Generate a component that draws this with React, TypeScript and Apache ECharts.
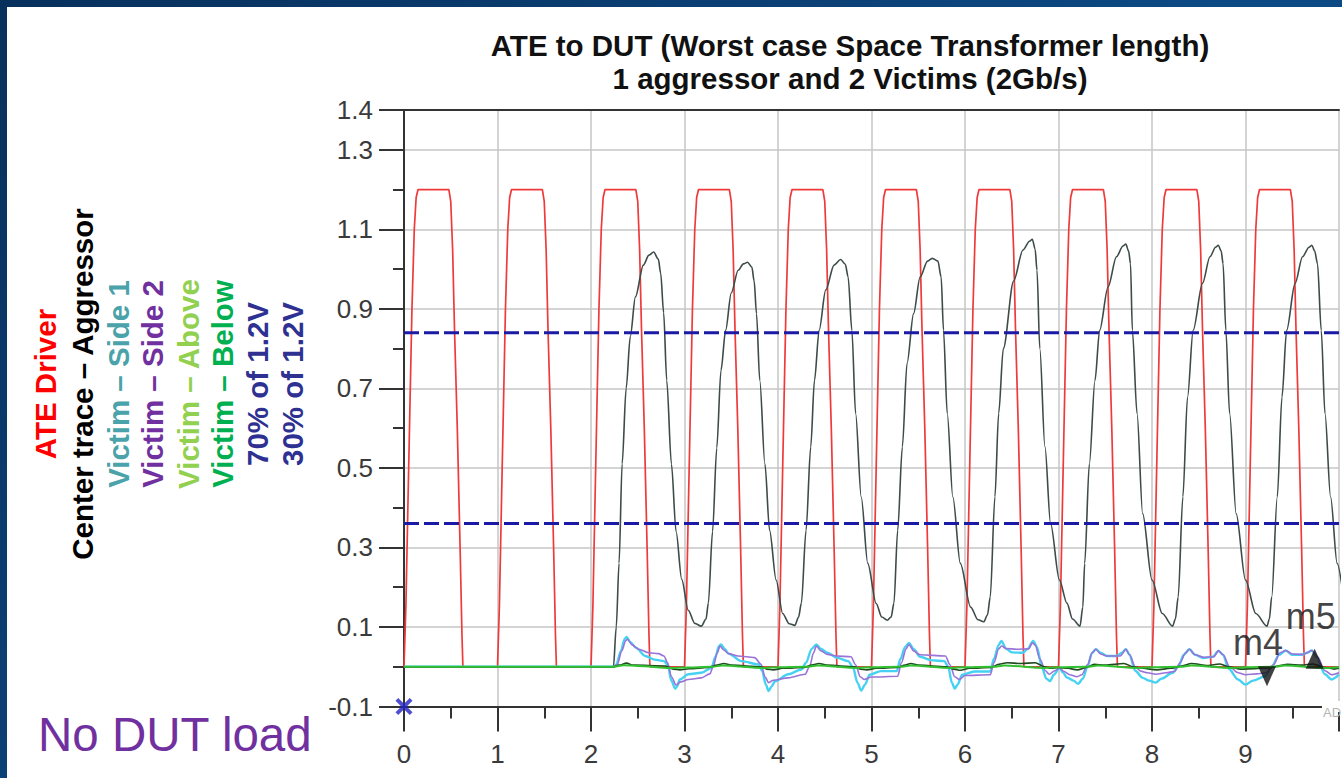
import React, { useEffect, useRef } from 'react';
import * as echarts from 'echarts';

const titleLines = ['ATE to DUT (Worst case Space Transformer length)', '1 aggressor and 2 Victims (2Gb/s)'];
const legendLabels = ['ATE Driver', 'Center trace – Aggressor', 'Victim – Side 1', 'Victim – Side 2', 'Victim – Above', 'Victim – Below', '70% of 1.2V', '30% of 1.2V'];
const legendColors = ['#ff0000', '#000000', '#4aa3aa', '#7030a0', '#92d050', '#00b050', '#2e3192', '#2e3192'];
const noteText = 'No DUT load';

const xTickLabels = ['0', '1', '2', '3', '4', '5', '6', '7', '8', '9', ''];
const yTickLabels = ['-0.1', '0.1', '0.3', '0.5', '0.7', '0.9', '1.1', '1.3', '1.4'];

// ATE driver: rising-edge start of each pulse (ns) and the pulse outline (offset ns, V)
const driverEdges = [0, 1, 2, 3, 4, 5, 6, 7, 8, 9];
const pulseOffsetT = [0, 0.02, 0.05, 0.085, 0.11, 0.13, 0.15, 0.48, 0.5, 0.52, 0.54, 0.57, 0.6, 0.62, 0.63];
const pulseV = [0, 0.15, 0.5, 0.9, 1.1, 1.18, 1.2, 1.2, 1.17, 1.05, 0.85, 0.6, 0.3, 0.08, 0];

// Center trace – aggressor
const aggT = [0, 2.24, 2.27, 2.3, 2.333, 2.376, 2.42, 2.475, 2.56, 2.62, 2.67, 2.72, 2.745, 2.777, 2.81, 2.86, 2.91, 2.97, 3.04, 3.11, 3.18, 3.23, 3.255, 3.3, 3.345, 3.39, 3.44, 3.5, 3.574, 3.63, 3.674, 3.72, 3.745, 3.77, 3.805, 3.86, 3.91, 3.98, 4.05, 4.12, 4.18, 4.22, 4.25, 4.3, 4.35, 4.39, 4.44, 4.51, 4.6, 4.67, 4.72, 4.75, 4.79, 4.83, 4.89, 4.96, 5.05, 5.11, 5.17, 5.21, 5.24, 5.28, 5.33, 5.38, 5.45, 5.52, 5.6, 5.65, 5.71, 5.745, 5.77, 5.81, 5.87, 5.95, 6.06, 6.14, 6.2, 6.24, 6.27, 6.32, 6.36, 6.41, 6.52, 6.62, 6.69, 6.72, 6.75, 6.77, 6.8, 6.855, 6.915, 7.01, 7.09, 7.15, 7.23, 7.26, 7.28, 7.33, 7.39, 7.44, 7.53, 7.62, 7.69, 7.72, 7.75, 7.77, 7.79, 7.84, 7.9, 8.0, 8.11, 8.22, 8.25, 8.28, 8.33, 8.38, 8.44, 8.54, 8.62, 8.68, 8.71, 8.74, 8.76, 8.79, 8.83, 8.9, 9.0, 9.11, 9.23, 9.255, 9.28, 9.34, 9.39, 9.44, 9.53, 9.61, 9.68, 9.71, 9.74, 9.77, 9.81, 9.85, 9.91, 9.98, 10.05];
const aggV = [0, 0, 0.1, 0.26, 0.51, 0.7, 0.83, 0.93, 1.01, 1.035, 1.043, 1.025, 0.99, 0.89, 0.72, 0.51, 0.34, 0.22, 0.142, 0.109, 0.102, 0.12, 0.16, 0.34, 0.55, 0.745, 0.846, 0.94, 0.997, 1.013, 1.017, 1.005, 0.97, 0.888, 0.72, 0.51, 0.343, 0.218, 0.134, 0.108, 0.104, 0.125, 0.16, 0.343, 0.553, 0.72, 0.846, 0.947, 1.01, 1.024, 1.012, 0.98, 0.846, 0.637, 0.427, 0.26, 0.159, 0.125, 0.117, 0.125, 0.16, 0.343, 0.553, 0.763, 0.888, 0.98, 1.02, 1.027, 1.02, 0.98, 0.846, 0.637, 0.427, 0.26, 0.15, 0.118, 0.113, 0.13, 0.175, 0.427, 0.637, 0.8, 0.97, 1.048, 1.07, 1.075, 1.05, 0.997, 0.8, 0.553, 0.36, 0.218, 0.16, 0.12, 0.102, 0.15, 0.26, 0.51, 0.72, 0.846, 0.955, 1.031, 1.058, 1.063, 1.045, 1.014, 0.846, 0.637, 0.385, 0.218, 0.134, 0.102, 0.12, 0.175, 0.427, 0.678, 0.846, 0.964, 1.031, 1.055, 1.06, 1.045, 1.014, 0.846, 0.637, 0.385, 0.218, 0.134, 0.102, 0.12, 0.175, 0.427, 0.678, 0.846, 0.964, 1.031, 1.055, 1.06, 1.045, 1.014, 0.846, 0.637, 0.427, 0.26, 0.17];

// Victim – Side 1
const side1T = [0, 2.24, 2.27, 2.32, 2.36, 2.38, 2.42, 2.48, 2.58, 2.68, 2.78, 2.82, 2.86, 2.9, 2.92, 2.95, 3.04, 3.18, 3.29, 3.33, 3.37, 3.39, 3.43, 3.47, 3.61, 3.79, 3.83, 3.87, 3.9, 3.93, 3.97, 4.11, 4.25, 4.3, 4.36, 4.41, 4.46, 4.53, 4.63, 4.75, 4.8, 4.85, 4.89, 4.93, 4.98, 5.1, 5.27, 5.31, 5.36, 5.4, 5.45, 5.52, 5.65, 5.78, 5.82, 5.86, 5.89, 5.92, 5.97, 6.1, 6.27, 6.31, 6.36, 6.39, 6.44, 6.5, 6.62, 6.67, 6.73, 6.77, 6.82, 6.87, 6.91, 6.95, 7.01, 7.05, 7.09, 7.16, 7.21, 7.26, 7.31, 7.36, 7.4, 7.45, 7.52, 7.62, 7.68, 7.72, 7.76, 7.82, 7.9, 7.97, 8.04, 8.1, 8.22, 8.28, 8.34, 8.4, 8.46, 8.55, 8.65, 8.71, 8.76, 8.82, 8.92, 9.0, 9.08, 9.21, 9.28, 9.36, 9.43, 9.5, 9.6, 9.66, 9.71, 9.76, 9.85, 9.92, 10.0];
const side1V = [0, 0, 0.005, 0.04, 0.07, 0.075, 0.062, 0.048, 0.027, 0.018, 0.014, 0.005, -0.035, -0.055, -0.05, -0.032, -0.019, -0.015, -0.003, 0.025, 0.052, 0.056, 0.045, 0.033, 0.014, 0.006, -0.01, -0.045, -0.061, -0.05, -0.036, -0.019, -0.007, 0.01, 0.045, 0.056, 0.045, 0.035, 0.023, 0.014, 0.0, -0.04, -0.06, -0.045, -0.02, -0.011, -0.011, 0.02, 0.05, 0.06, 0.045, 0.025, 0.016, 0.014, 0.0, -0.04, -0.055, -0.045, -0.02, -0.012, -0.012, 0.02, 0.055, 0.065, 0.045, 0.036, 0.035, 0.045, 0.065, 0.05, 0.0, -0.03, -0.036, -0.02, -0.003, -0.015, -0.027, -0.035, -0.043, -0.03, 0.0, 0.035, 0.044, 0.035, 0.027, 0.027, 0.035, 0.044, 0.03, -0.01, -0.028, -0.035, -0.04, -0.03, -0.015, 0.0, 0.03, 0.044, 0.03, 0.022, 0.025, 0.04, 0.03, -0.005, -0.032, -0.045, -0.035, -0.024, 0.0, 0.03, 0.041, 0.03, 0.03, 0.035, 0.041, 0.025, -0.019, -0.032, -0.02];

// Victim – Side 2
const side2T = [0, 2.24, 2.28, 2.33, 2.37, 2.39, 2.44, 2.51, 2.62, 2.72, 2.78, 2.82, 2.86, 2.91, 2.96, 3.04, 3.18, 3.27, 3.31, 3.35, 3.38, 3.42, 3.47, 3.57, 3.75, 3.82, 3.86, 3.9, 3.95, 4.11, 4.29, 4.34, 4.38, 4.41, 4.46, 4.53, 4.63, 4.78, 4.83, 4.88, 4.92, 5.0, 5.28, 5.32, 5.37, 5.4, 5.45, 5.52, 5.79, 5.84, 5.89, 5.94, 6.0, 6.27, 6.31, 6.36, 6.39, 6.44, 6.55, 6.68, 6.72, 6.75, 6.8, 6.86, 6.9, 6.96, 7.01, 7.06, 7.12, 7.2, 7.25, 7.31, 7.36, 7.4, 7.45, 7.52, 7.66, 7.72, 7.76, 7.82, 7.88, 7.95, 8.04, 8.15, 8.24, 8.3, 8.36, 8.4, 8.46, 8.55, 8.66, 8.71, 8.76, 8.83, 8.92, 9.0, 9.12, 9.22, 9.3, 9.37, 9.43, 9.5, 9.62, 9.71, 9.77, 9.85, 9.92, 10.0];
const side2V = [0, 0, 0.005, 0.04, 0.065, 0.069, 0.055, 0.044, 0.035, 0.033, 0.027, 0.01, -0.025, -0.046, -0.038, -0.032, -0.028, -0.018, 0.002, 0.035, 0.052, 0.042, 0.033, 0.027, 0.023, 0.006, -0.025, -0.04, -0.034, -0.028, -0.019, 0.002, 0.035, 0.052, 0.04, 0.031, 0.027, 0.025, 0.005, -0.025, -0.032, -0.026, -0.024, 0.01, 0.045, 0.056, 0.04, 0.03, 0.027, 0.005, -0.025, -0.032, -0.022, -0.02, 0.01, 0.045, 0.052, 0.046, 0.044, 0.045, 0.06, 0.055, 0.02, -0.01, -0.019, -0.01, -0.003, -0.012, -0.02, -0.025, -0.02, 0.005, 0.035, 0.044, 0.032, 0.027, 0.027, 0.044, 0.03, 0.0, -0.011, -0.015, -0.019, -0.015, -0.012, 0.01, 0.035, 0.044, 0.03, 0.024, 0.025, 0.04, 0.03, 0.0, -0.015, -0.02, -0.018, -0.015, 0.005, 0.035, 0.041, 0.032, 0.031, 0.041, 0.025, -0.01, -0.02, -0.015];

// Victim – Below (dark) and Victim – Above (light)
const belowT = [0, 2.24, 2.3, 2.38, 2.45, 2.8, 2.88, 2.95, 3.05, 3.25, 3.35, 3.42, 3.5, 3.82, 3.88, 3.95, 4.05, 4.28, 4.36, 4.44, 4.52, 4.82, 4.88, 4.95, 5.05, 5.28, 5.36, 5.42, 5.5, 5.8, 5.88, 5.95, 6.05, 6.28, 6.36, 6.45, 6.6, 6.75, 6.85, 6.92, 7.0, 7.1, 7.2, 7.3, 7.38, 7.5, 7.7, 7.8, 7.9, 8.05, 8.2, 8.32, 8.42, 8.6, 8.72, 8.82, 8.95, 9.1, 9.25, 9.35, 9.45, 9.6, 9.72, 9.85, 9.95, 10.0];
const belowV = [0, 0, 0.004, 0.009, 0.004, 0.002, -0.006, -0.008, -0.005, -0.002, 0.004, 0.008, 0.004, 0.0, -0.006, -0.008, -0.004, -0.002, 0.004, 0.008, 0.004, 0.0, -0.006, -0.008, -0.004, -0.002, 0.004, 0.008, 0.004, 0.0, -0.006, -0.009, -0.004, -0.002, 0.006, 0.01, 0.008, 0.01, 0.0, -0.004, -0.002, -0.004, -0.008, -0.002, 0.006, 0.004, 0.008, 0.0, -0.004, -0.008, -0.004, 0.002, 0.008, 0.003, 0.007, 0.0, -0.006, -0.005, -0.003, 0.002, 0.006, 0.004, 0.007, -0.002, -0.006, -0.004];
const aboveT = [0, 2.24, 2.35, 2.5, 2.85, 3.0, 3.3, 3.4, 3.85, 4.0, 4.3, 4.42, 4.85, 5.0, 5.3, 5.42, 5.85, 6.0, 6.3, 6.42, 6.85, 7.0, 7.3, 7.42, 7.85, 8.0, 8.3, 8.42, 8.85, 9.0, 9.3, 9.42, 9.85, 10.0];
const aboveV = [0, 0, 0.004, 0.002, -0.003, -0.002, 0.0, 0.003, -0.003, -0.001, 0.0, 0.003, -0.003, -0.001, 0.0, 0.003, -0.003, -0.001, 0.0, 0.003, -0.003, -0.001, 0.0, 0.003, -0.003, -0.001, 0.0, 0.003, -0.003, -0.001, 0.0, 0.003, -0.003, -0.001];

// 70% and 30% of 1.2 V thresholds
const threshold70 = 0.84;
const threshold30 = 0.36;
const xRange = [0, 10];

// Markers
const markerNames = ['m4', 'm5'];
const markerT = [9.23, 9.74];
const markerV = [-0.024, 0.02];

const FONT = '"Liberation Sans", Arial, Helvetica, sans-serif';

function pairs(t: number[], v: number[]) {
  return t.map((x, i) => [x, v[i]]);
}

function driverData() {
  const out: number[][] = [];
  driverEdges.forEach((e) => {
    pulseOffsetT.forEach((o, i) => out.push([+(e + o).toFixed(3), pulseV[i]]));
  });
  out.push([10, 0]);
  return out;
}

export default function App() {
  const ref = useRef<HTMLDivElement>(null);
  useEffect(() => {
    if (!ref.current) return;
    const chart = echarts.init(ref.current, undefined, { renderer: 'svg' });
    const lineBase = { type: 'line', showSymbol: false, silent: true, animation: false, xAxisIndex: 0, yAxisIndex: 0 };
    const legendX = [45, 82, 118, 152, 188, 222, 257, 292];
    chart.setOption({
      animation: false,
      backgroundColor: 'transparent',
      grid: { left: 404, top: 110, width: 940, height: 596.5, containLabel: false },
      xAxis: [
        {
          type: 'value', min: xRange[0], max: xRange[1], interval: 1, position: 'bottom',
          axisLine: { onZero: false, lineStyle: { color: '#333', width: 2 } },
          axisTick: { length: 25, lineStyle: { color: '#333', width: 2 } },
          minorTick: { show: true, splitNumber: 2, length: 12, lineStyle: { color: '#333', width: 2 } },
          axisLabel: { fontSize: 26, color: '#3a3a3a', fontFamily: FONT, margin: 34, formatter: (_v: number, i: number) => xTickLabels[i] ?? '' },
          splitLine: { show: true, lineStyle: { color: '#c6c6c6', width: 1.5 } },
        },
        {
          type: 'value', min: xRange[0], max: xRange[1], position: 'top',
          axisLine: { onZero: false, lineStyle: { color: '#333', width: 2 } },
          axisTick: { show: false }, axisLabel: { show: false }, splitLine: { show: false },
        },
      ],
      yAxis: [
        {
          type: 'value', min: -0.1, max: 1.4, interval: 0.1, position: 'left',
          axisLine: { show: true, onZero: false, lineStyle: { color: '#333', width: 2 } },
          axisTick: { length: 11, lineStyle: { color: '#333', width: 2 } },
          axisLabel: { show: false }, splitLine: { show: false },
        },
        {
          type: 'value', min: 0, max: 1.5, interval: 0.2, position: 'left',
          axisLine: { show: false, onZero: false },
          axisTick: { show: true, length: 25, lineStyle: { color: '#333', width: 2 } },
          axisLabel: { fontSize: 26, color: '#3a3a3a', fontFamily: FONT, margin: 31, formatter: (_v: number, i: number) => yTickLabels[i] ?? '' },
          splitLine: { show: true, lineStyle: { color: '#c6c6c6', width: 1.5 } },
        },
      ],
      series: [
        { ...lineBase, name: 'ATE Driver', data: driverData(), lineStyle: { color: '#f03a3a', width: 1.7 } },
        { ...lineBase, name: 'Center trace – Aggressor', data: pairs(aggT, aggV), smooth: 0.3, smoothMonotone: 'x', lineStyle: { color: '#3d4c4a', width: 1.6 } },
        { ...lineBase, name: 'Victim – Side 1', data: pairs(side1T, side1V), smooth: 0.3, smoothMonotone: 'x', lineStyle: { color: '#45d2f2', width: 2.4 } },
        { ...lineBase, name: 'Victim – Side 2', data: pairs(side2T, side2V), smooth: 0.3, smoothMonotone: 'x', lineStyle: { color: '#9a72d8', width: 1.6 } },
        { ...lineBase, name: 'Victim – Below', data: pairs(belowT, belowV), smooth: 0.3, smoothMonotone: 'x', lineStyle: { color: '#1e4a1e', width: 1.6 } },
        { ...lineBase, name: 'Victim – Above', data: pairs(aboveT, aboveV), smooth: 0.3, smoothMonotone: 'x', lineStyle: { color: '#2fbf2f', width: 2 } },
        { ...lineBase, name: '70% of 1.2V', data: [[xRange[0], threshold70], [xRange[1], threshold70]], lineStyle: { color: '#1a1aa6', width: 3, type: [15, 5] } },
        { ...lineBase, name: '30% of 1.2V', data: [[xRange[0], threshold30], [xRange[1], threshold30]], lineStyle: { color: '#1a1aa6', width: 3, type: [15, 5] } },
        {
          type: 'scatter', name: 'markers', silent: true, animation: false, clip: false,
          data: markerT.map((t, i) => ({
            value: [t, markerV[i]],
            symbolRotate: i === 0 ? 180 : 0,
            label: { show: true, formatter: markerNames[i], position: 'top', distance: i === 0 ? 6 : 14, offset: i === 0 ? [-9, 0] : [-4, 0] },
          })),
          symbol: 'triangle', symbolSize: [18, 20],
          itemStyle: { color: '#111' },
          label: { fontSize: 36, color: '#111', fontFamily: FONT },
          z: 5,
        },
        {
          type: 'scatter', name: 'origin', silent: true, animation: false, clip: false,
          data: [[0, -0.1]],
          symbol: 'path://M0,1.6 L1.6,0 L5,3.4 L8.4,0 L10,1.6 L6.6,5 L10,8.4 L8.4,10 L5,6.6 L1.6,10 L0,8.4 L3.4,5 Z',
          symbolSize: 17,
          itemStyle: { color: '#2222c8' },
          z: 10,
        },
      ],
      graphic: [
        ...titleLines.map((t, i) => ({
          type: 'text', x: 850, y: 45 + i * 33, z: 100,
          style: { text: t, font: `bold 29.5px ${FONT}`, fill: '#111', align: 'center', verticalAlign: 'middle' },
        })),
        ...legendLabels.map((t, i) => ({
          type: 'text', x: legendX[i], y: 384, rotation: Math.PI / 2, z: 100,
          style: { text: t, font: `bold 29.5px ${FONT}`, fill: legendColors[i], align: 'center', verticalAlign: 'middle' },
        })),
        {
          type: 'text', x: 38, y: 734, z: 100,
          style: { text: noteText, font: `47.5px ${FONT}`, fill: '#7030a0', align: 'left', verticalAlign: 'middle' },
        },
        { type: 'rect', shape: { x: 1322, y: 701, width: 30, height: 11 }, style: { fill: '#ffffff' }, z: 100 },
        {
          type: 'text', x: 1323, y: 712, z: 101,
          style: { text: 'AD', font: `13px ${FONT}`, fill: '#b4b4b4', align: 'left', verticalAlign: 'middle' },
        },
      ],
    });
    return () => chart.dispose();
  }, []);
  return (
    <div style={{ position: 'fixed', left: 0, top: 0, width: 1342, height: 778, background: 'linear-gradient(135deg, #08305c 0%, #0d4a85 60%, #0b3f75 100%)', overflow: 'hidden' }}>
      <div style={{ position: 'absolute', left: 7, top: 7, right: 0, bottom: 0, background: '#ffffff' }} />
      <div ref={ref} style={{ position: 'absolute', left: 0, top: 0, width: 1342, height: 778 }} />
    </div>
  );
}
